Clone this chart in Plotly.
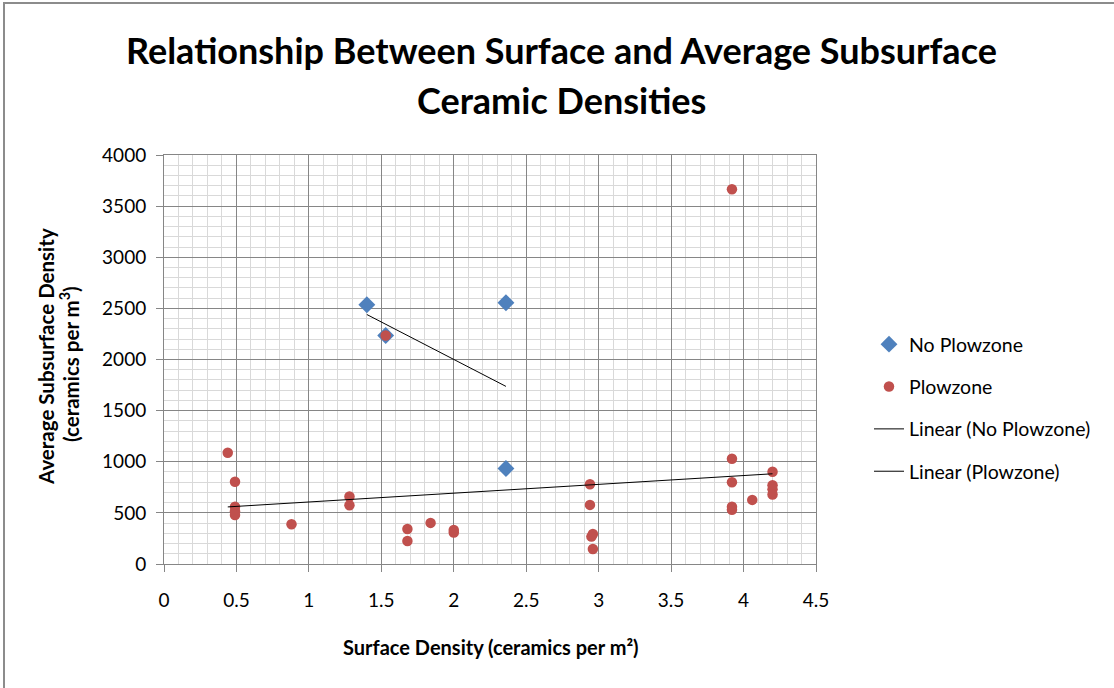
import numpy as np
import plotly.graph_objects as go

# ---- data ----
no_plow_x = [1.40, 1.53, 2.36, 2.36]
no_plow_y = [2535, 2235, 2555, 934]

plow_x = [0.44, 0.49, 0.49, 0.49, 0.49, 0.88, 1.28, 1.28, 1.53, 1.68, 1.68, 1.84,
          2.00, 2.00, 2.94, 2.94, 2.96, 2.95, 2.96, 3.92, 3.92, 3.92, 3.92, 3.92,
          4.06, 4.20, 4.20, 4.20, 4.20]
plow_y = [1088, 804, 560, 515, 480, 388, 660, 575, 2235, 343, 225, 402,
          333, 307, 780, 578, 294, 268, 147, 3665, 1029, 800, 560, 530,
          627, 902, 770, 730, 680]

x_ticks = [0, 0.5, 1, 1.5, 2, 2.5, 3, 3.5, 4, 4.5]
y_ticks = [0, 500, 1000, 1500, 2000, 2500, 3000, 3500, 4000]

title_lines = ["Relationship Between Surface and Average Subsurface", "Ceramic Densities"]
x_title = "Surface Density (ceramics per m²)"
y_title_lines = ["Average Subsurface Density", "(ceramics per m<sup>3</sup>)"]

# ---- linear trendlines (least squares, as in the spreadsheet) ----
def trend(xs, ys):
    k, b = np.polyfit(xs, ys, 1)
    xr = np.array([min(xs), max(xs)])
    return xr, k * xr + b

tnx, tny = trend(no_plow_x, no_plow_y)
tpx, tpy = trend(plow_x, plow_y)

BLUE = "#4F81BD"
RED = "#C0504D"
MAJ = "#868686"
MIN = "#D9D9D9"
FONT = "Lato"

fig = go.Figure()
fig.add_trace(go.Scatter(x=no_plow_x, y=no_plow_y, mode="markers", name="No Plowzone",
                         legendgroup="a",
                         marker=dict(symbol="diamond", size=13, color=BLUE)))
fig.add_trace(go.Scatter(x=plow_x, y=plow_y, mode="markers", name="Plowzone",
                         legendgroup="b",
                         marker=dict(symbol="circle", size=10.5, color=RED)))
fig.add_trace(go.Scatter(x=tnx, y=tny, mode="lines", name="Linear (No Plowzone)",
                         legendgroup="c", line=dict(color="#000000", width=1)))
fig.add_trace(go.Scatter(x=tpx, y=tpy, mode="lines", name="Linear (Plowzone)",
                         legendgroup="d", line=dict(color="#000000", width=1)))

L, R, T, B = 164, 298, 155, 124
W, H = 1114, 688
pw, ph = W - L - R, H - T - B

def px_to_paper_x(px):
    return (px - L) / pw

def px_to_paper_y(py):
    return (H - B - py) / ph

axis_common = dict(
    showline=True, linecolor=MAJ, linewidth=1, mirror=True,
    showgrid=True, gridcolor=MAJ, gridwidth=1,
    ticks="outside", ticklen=7, tickcolor=MAJ,
    tickfont=dict(family=FONT, size=19, color="#000000"),
    zeroline=False,
)

fig.update_xaxes(range=[0, 4.5], tickvals=x_ticks, ticktext=[f"{v:g}" for v in x_ticks],
                 ticklabelstandoff=12,
                 minor=dict(dtick=0.1, tick0=0, showgrid=True, gridcolor=MIN, gridwidth=1, ticks=""),
                 **axis_common)
fig.update_yaxes(range=[0, 4000], tickvals=y_ticks, ticktext=[str(v) for v in y_ticks],
                 ticklabelstandoff=6,
                 minor=dict(dtick=100, tick0=0, showgrid=True, gridcolor=MIN, gridwidth=1, ticks=""),
                 **axis_common)

annotations = [
    dict(text=f"<b>{title_lines[0]}</b>", x=px_to_paper_x(561), y=px_to_paper_y(50),
         font=dict(family=FONT, size=36, color="#000000")),
    dict(text=f"<b>{title_lines[1]}</b>", x=px_to_paper_x(561), y=px_to_paper_y(100),
         font=dict(family=FONT, size=36, color="#000000")),
    dict(text=f"<b>{x_title}</b>", x=px_to_paper_x(491), y=px_to_paper_y(647),
         font=dict(family=FONT, size=20, color="#000000")),
    dict(text=f"<b>{y_title_lines[0]}</b>", x=px_to_paper_x(46), y=px_to_paper_y(357),
         textangle=-90, font=dict(family=FONT, size=20.5, color="#000000")),
    dict(text=f"<b>{y_title_lines[1]}</b>", x=px_to_paper_x(69), y=px_to_paper_y(364),
         textangle=-90, font=dict(family=FONT, size=20.5, color="#000000")),
]
for a in annotations:
    a.update(xref="paper", yref="paper", showarrow=False, xanchor="center", yanchor="middle")

fig.update_layout(
    width=W, height=H,
    margin=dict(l=L, r=R, t=T, b=B),
    paper_bgcolor="#FFFFFF", plot_bgcolor="#FFFFFF",
    annotations=annotations,
    showlegend=True,
    legend=dict(x=px_to_paper_x(869), y=px_to_paper_y(325), xanchor="left", yanchor="top",
                font=dict(family=FONT, size=19.5, color="#000000"),
                tracegroupgap=14, traceorder="grouped", bgcolor="rgba(0,0,0,0)"),
    shapes=[dict(type="rect", xref="paper", yref="paper",
                 x0=px_to_paper_x(4), x1=px_to_paper_x(1200),
                 y0=px_to_paper_y(800), y1=px_to_paper_y(3),
                 line=dict(color="#8C8C8C", width=2), fillcolor="rgba(0,0,0,0)", layer="below")],
)

fig.write_html("out.html")
